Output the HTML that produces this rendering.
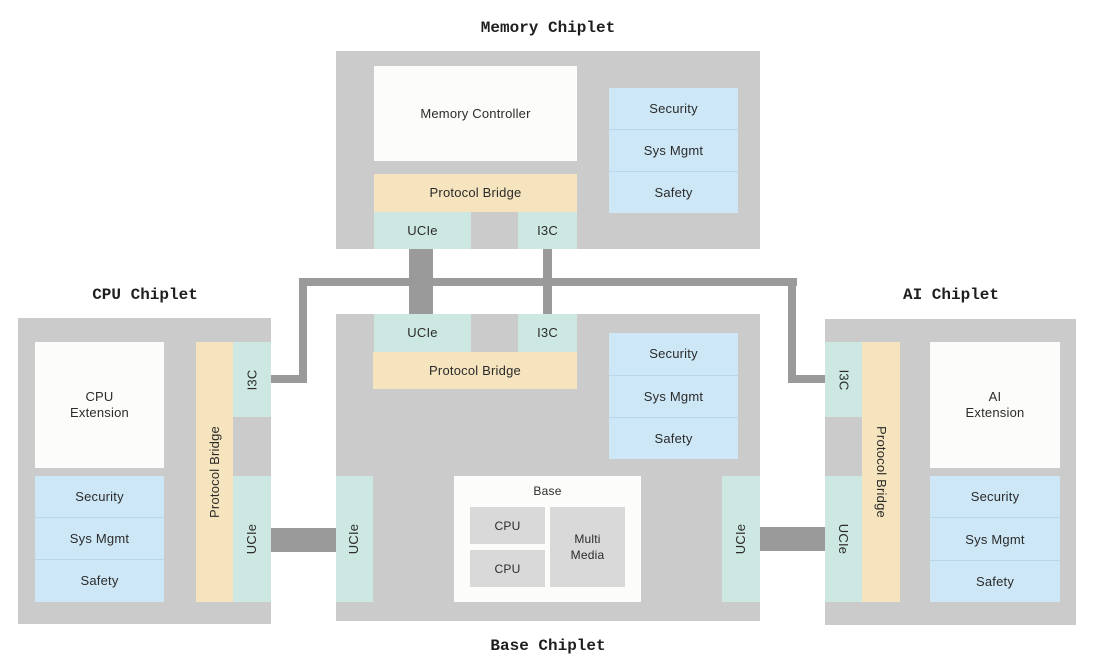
<!DOCTYPE html>
<html><head><meta charset="utf-8"><style>
html,body{margin:0;padding:0;background:#fff;}
body{width:1098px;height:661px;position:relative;overflow:hidden;font-family:"Liberation Sans",sans-serif;color:#2b2b2b;}
.a{position:absolute;box-sizing:border-box;}
.g{background:#cbcbcb;}
.w{background:#fcfcfa;}
.t{background:#cde8e3;}
.y{background:#f5e4bd;}
.b{background:#cde7f6;}
.c{background:#9a9a9a;}
.ig{background:#d9d9d9;}
.lbl{display:flex;align-items:center;justify-content:center;text-align:center;font-size:13px;line-height:16px;letter-spacing:0.2px;}
.dv{border-top:1px solid #b8d7e8;}
.ttl{position:absolute;font-family:"Liberation Mono",monospace;font-weight:bold;font-size:16px;transform:translate(-50%,-50%);white-space:nowrap;color:#1e1e1e;}
.ccw{transform:rotate(-90deg);white-space:nowrap;}
.cw{transform:rotate(90deg);white-space:nowrap;}
.s12{font-size:12px;}
</style></head><body>

<!-- connectors -->
<div class="a c" style="left:409px;top:249px;width:24px;height:66px;"></div>
<div class="a c" style="left:543px;top:249px;width:9px;height:66px;"></div>
<div class="a c" style="left:299px;top:278px;width:498px;height:8px;"></div>
<div class="a c" style="left:299px;top:278px;width:8px;height:105px;"></div>
<div class="a c" style="left:270px;top:375px;width:37px;height:8px;"></div>
<div class="a c" style="left:788px;top:278px;width:8px;height:105px;"></div>
<div class="a c" style="left:788px;top:375px;width:38px;height:8px;"></div>
<div class="a c" style="left:270px;top:528px;width:67px;height:24px;"></div>
<div class="a c" style="left:759px;top:527px;width:67px;height:24px;"></div>

<!-- titles -->
<div class="ttl" style="left:548px;top:28px;">Memory Chiplet</div>
<div class="ttl" style="left:145px;top:295px;">CPU Chiplet</div>
<div class="ttl" style="left:951px;top:295px;">AI Chiplet</div>
<div class="ttl" style="left:548px;top:646px;">Base Chiplet</div>

<!-- Memory chiplet -->
<div class="a g" style="left:336px;top:51px;width:424px;height:198px;"></div>
<div class="a w lbl" style="left:374px;top:66px;width:203px;height:95px;">Memory Controller</div>
<div class="a y lbl" style="left:374px;top:174px;width:203px;height:38px;">Protocol Bridge</div>
<div class="a t lbl" style="left:374px;top:212px;width:97px;height:37px;">UCIe</div>
<div class="a t lbl" style="left:518px;top:212px;width:59px;height:37px;">I3C</div>
<div class="a b lbl" style="left:609px;top:88px;width:129px;height:42px;">Security</div>
<div class="a b lbl dv" style="left:609px;top:129px;width:129px;height:43px;">Sys Mgmt</div>
<div class="a b lbl dv" style="left:609px;top:171px;width:129px;height:42px;">Safety</div>

<!-- Base chiplet -->
<div class="a g" style="left:336px;top:314px;width:424px;height:307px;"></div>
<div class="a t lbl" style="left:374px;top:314px;width:97px;height:38px;">UCIe</div>
<div class="a t lbl" style="left:518px;top:314px;width:59px;height:38px;">I3C</div>
<div class="a y lbl" style="left:373px;top:352px;width:204px;height:37px;">Protocol Bridge</div>
<div class="a b lbl" style="left:609px;top:333px;width:129px;height:42px;">Security</div>
<div class="a b lbl dv" style="left:609px;top:375px;width:129px;height:42px;">Sys Mgmt</div>
<div class="a b lbl dv" style="left:609px;top:417px;width:129px;height:42px;">Safety</div>
<div class="a t lbl" style="left:336px;top:476px;width:37px;height:126px;"><span class="ccw">UCIe</span></div>
<div class="a t lbl" style="left:722px;top:476px;width:38px;height:126px;"><span class="ccw">UCIe</span></div>
<div class="a w" style="left:454px;top:476px;width:187px;height:126px;"></div>
<div class="a lbl s12" style="left:454px;top:483px;width:187px;height:16px;">Base</div>
<div class="a ig lbl s12" style="left:470px;top:507px;width:75px;height:37px;">CPU</div>
<div class="a ig lbl s12" style="left:470px;top:550px;width:75px;height:37px;">CPU</div>
<div class="a ig lbl s12" style="left:550px;top:507px;width:75px;height:80px;">Multi<br>Media</div>

<!-- CPU chiplet -->
<div class="a g" style="left:18px;top:318px;width:253px;height:306px;"></div>
<div class="a w lbl" style="left:35px;top:342px;width:129px;height:126px;">CPU<br>Extension</div>
<div class="a b lbl" style="left:35px;top:476px;width:129px;height:42px;">Security</div>
<div class="a b lbl dv" style="left:35px;top:517px;width:129px;height:43px;">Sys Mgmt</div>
<div class="a b lbl dv" style="left:35px;top:559px;width:129px;height:43px;">Safety</div>
<div class="a y lbl" style="left:196px;top:342px;width:37px;height:260px;"><span class="ccw">Protocol Bridge</span></div>
<div class="a t lbl" style="left:233px;top:342px;width:38px;height:75px;"><span class="ccw">I3C</span></div>
<div class="a t lbl" style="left:233px;top:476px;width:38px;height:126px;"><span class="ccw">UCIe</span></div>

<!-- AI chiplet -->
<div class="a g" style="left:825px;top:319px;width:251px;height:306px;"></div>
<div class="a t lbl" style="left:825px;top:342px;width:37px;height:75px;"><span class="cw">I3C</span></div>
<div class="a t lbl" style="left:825px;top:476px;width:37px;height:126px;"><span class="cw">UCIe</span></div>
<div class="a y lbl" style="left:862px;top:342px;width:38px;height:260px;"><span class="cw">Protocol Bridge</span></div>
<div class="a w lbl" style="left:930px;top:342px;width:130px;height:126px;">AI<br>Extension</div>
<div class="a b lbl" style="left:930px;top:476px;width:130px;height:42px;">Security</div>
<div class="a b lbl dv" style="left:930px;top:517px;width:130px;height:44px;">Sys Mgmt</div>
<div class="a b lbl dv" style="left:930px;top:560px;width:130px;height:42px;">Safety</div>

</body></html>
